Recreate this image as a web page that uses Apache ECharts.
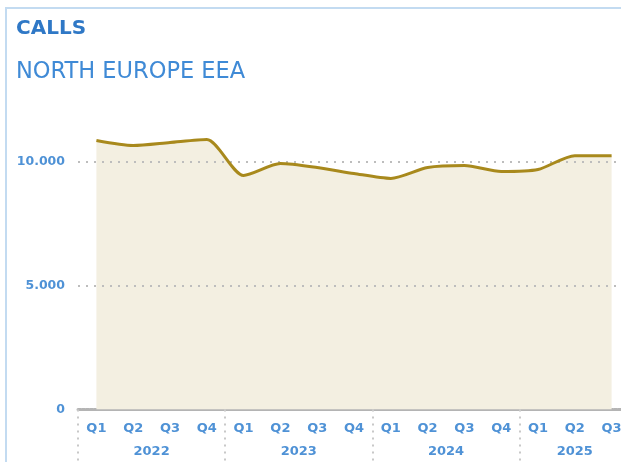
<!DOCTYPE html>
<html>
<head>
<meta charset="utf-8">
<script src="https://cdn.jsdelivr.net/npm/echarts@6/dist/echarts.min.js"></script>
<style>
  html, body { margin: 0; background: #fff; overflow: hidden; }
  #chart { width: 621px; height: 462px; }
</style>
</head>
<body>
<div id="chart"></div>
<script>
// quarters Q1 2022 .. Q3 2025
var quarters = ['Q1', 'Q2', 'Q3', 'Q4', 'Q1', 'Q2', 'Q3', 'Q4', 'Q1', 'Q2', 'Q3', 'Q4', 'Q1', 'Q2', 'Q3'];
var calls = [10850, 10650, 10770, 10890, 9440, 9920, 9760, 9520, 9320, 9760, 9840, 9600, 9680, 10240, 10240];
// year labels, placed at the middle of their quarters (in quarter units)
var years = ['2022', '2023', '2024', '2025'];
var yearCenters = [2, 6, 10, 13.5];

var blue = '#4f92d6';
var labelFont = 'DejaVu Sans';
var chart = echarts.init(document.getElementById('chart'));

var options = {
  animation: false,
  // card frame: left and top edges only
  graphic: [
    {
      type: 'polyline',
      silent: true,
      shape: { points: [[6, 470], [6, 8], [640, 8]] },
      style: { stroke: '#c3dbf1', lineWidth: 2, fill: null }
    }
  ],
  title: [
    {
      text: 'CALLS',
      left: 11,
      top: 14,
      textStyle: { color: '#2f78c6', fontSize: 20, fontWeight: 'bold', fontFamily: 'DejaVu Sans' }
    },
    {
      text: 'NORTH EUROPE EEA',
      left: 11,
      top: 56,
      textStyle: { color: '#3f8ad6', fontSize: 22.5, fontWeight: 'normal', fontFamily: 'DejaVu Sans' }
    }
  ],
  grid: { left: 78, right: -9, top: 112, bottom: 52.5, outerBoundsMode: 'none' },
  xAxis: [
    {
      type: 'category',
      data: quarters,
      boundaryGap: true,
      axisLine: { lineStyle: { color: '#b4b4b4', width: 3, type: [3, 1] } },
      axisTick: {
        show: true,
        length: 52,
        interval: function (i) { return i % 4 === 0; },
        lineStyle: { color: '#c8c8c8', width: 2, type: [2, 5] }
      },
      axisLabel: {
        interval: 0,
        margin: 13,
        color: blue,
        fontSize: 13,
        fontWeight: 'bold',
        fontFamily: labelFont
      }
    },
    {
      type: 'value',
      position: 'bottom',
      offset: 23,
      min: 0,
      max: 15,
      interval: 0.5,
      axisLine: { show: false },
      axisTick: { show: false },
      splitLine: { show: false },
      axisLabel: {
        margin: 13,
        color: blue,
        fontSize: 13,
        fontWeight: 'bold',
        fontFamily: labelFont,
        formatter: function (v) {
          var k = yearCenters.indexOf(v);
          return k >= 0 ? years[k] : '';
        }
      }
    }
  ],
  yAxis: {
    type: 'value',
    min: 0,
    max: 12000,
    interval: 5000,
    z: 2,
    axisLine: { show: false },
    axisTick: { show: false },
    axisLabel: {
      margin: 13,
      showMaxLabel: false,
      color: blue,
      fontSize: 12.5,
      fontWeight: 'bold',
      fontFamily: labelFont,
      formatter: function (v) {
        return String(v).replace(/\B(?=(\d{3})+(?!\d))/g, '.');
      }
    },
    splitLine: {
      showMinLine: false,
      showMaxLine: false,
      lineStyle: { color: '#bdbdbd', width: 2, type: [2, 6] }
    }
  },
  series: [
    {
      // filled area under the line
      type: 'line',
      data: calls,
      xAxisIndex: 0,
      z: 1,
      smooth: 0.25,
      symbol: 'none',
      lineStyle: { width: 0 },
      areaStyle: { color: '#f3efe1', opacity: 1 }
    },
    {
      type: 'line',
      data: calls,
      xAxisIndex: 0,
      z: 3,
      smooth: 0.25,
      symbol: 'none',
      lineStyle: { color: '#a8891c', width: 3 }
    }
  ]
};

chart.setOption(options);
</script>
</body>
</html>
